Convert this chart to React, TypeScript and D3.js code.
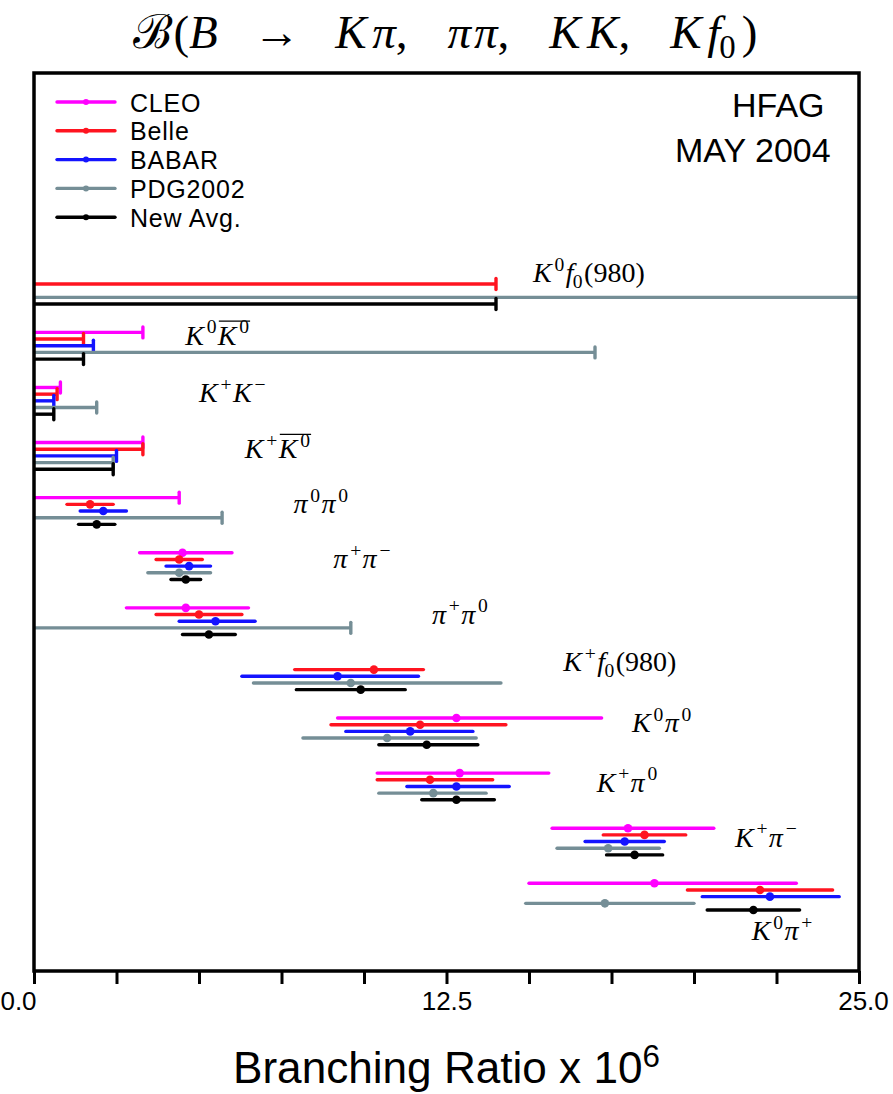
import React, { useEffect, useRef } from "react";
import * as d3 from "d3";

const W = 893;
const H = 1094;

// Experiments (legend order) and their colours
const experiments = ["CLEO", "Belle", "BABAR", "PDG2002", "New Avg."];
const expColors = ["#ff00ff", "#ff1420", "#1414ff", "#758e96", "#000000"];

// Decay modes, top to bottom
const modes = ["K0f0", "K0K0bar", "KpKm", "KpK0bar", "pi0pi0", "pippim", "pippi0", "Kpf0", "K0pi0", "Kppi0", "Kppim", "K0pip"];

// Measurements (x 10^-6): [central, low edge, high edge] or [upper limit]; null = none
type Meas = number[] | null;
const cleo: Meas[] = [null, [3.3], [0.8], [3.3], [4.4], [4.5, 3.2, 6.0], [4.6, 2.8, 6.5], null, [12.8, 9.2, 17.2], [12.9, 10.4, 15.6], [18.0, 15.7, 20.6], [18.8, 15.0, 23.1]];
const belle: Meas[] = [[14.0], [1.5], [0.7], [3.3], [1.7, 1.0, 2.4], [4.4, 3.7, 5.1], [5.0, 3.7, 6.3], [10.3, 7.9, 11.8], [11.7, 9.0, 14.3], [12.0, 10.4, 13.9], [18.5, 17.25, 19.75], [22.0, 19.8, 24.2]];
const babar: Meas[] = [null, [1.8], [0.6], [2.5], [2.1, 1.4, 2.8], [4.7, 4.0, 5.35], [5.5, 4.4, 6.7], [9.2, 6.3, 11.65], [11.4, 9.45, 13.3], [12.8, 11.3, 14.4], [17.9, 16.7, 19.1], [22.3, 20.25, 24.4]];
const pdg2002: Meas[] = [[26.0], [17.0], [1.9], [2.4], [5.7], [4.4, 3.45, 5.35], [9.6], [9.6, 6.65, 14.15], [10.7, 8.15, 13.4], [12.1, 10.45, 13.7], [17.4, 15.85, 18.95], [17.3, 14.9, 20.0]];
const newAvg: Meas[] = [[14.0], [1.5], [0.6], [2.4], [1.9, 1.35, 2.45], [4.6, 4.15, 5.05], [5.3, 4.5, 6.1], [9.9, 7.95, 11.25], [11.9, 10.45, 13.45], [12.8, 11.75, 13.95], [18.2, 17.35, 19.05], [21.8, 20.4, 23.2]];
const seriesByExp: Meas[][] = [cleo, belle, babar, pdg2002, newAvg];

// Axis ticks
const tickValues = [0, 2.5, 5, 7.5, 10, 12.5, 15, 17.5, 20, 22.5, 25];
const labelledTicks = [0, 12.5, 25];

// Math text segments (it = italic, s = sup/sub, bar = overline, gap = space before, in em)
type Seg = { t: string; it?: boolean; s?: "sup" | "sub"; bar?: boolean; gap?: number };
const modeLabels: Seg[][] = [
  [{ t: "K", it: true }, { t: "0", s: "sup" }, { t: "f", it: true }, { t: "0", s: "sub" }, { t: "(980)" }],
  [{ t: "K", it: true }, { t: "0", s: "sup" }, { t: "K", it: true, bar: true }, { t: "0", s: "sup", bar: true }],
  [{ t: "K", it: true }, { t: "+", s: "sup" }, { t: "K", it: true }, { t: "\u2212", s: "sup" }],
  [{ t: "K", it: true }, { t: "+", s: "sup" }, { t: "K", it: true, bar: true }, { t: "0", s: "sup", bar: true }],
  [{ t: "\u03c0", it: true }, { t: "0", s: "sup" }, { t: "\u03c0", it: true }, { t: "0", s: "sup" }],
  [{ t: "\u03c0", it: true }, { t: "+", s: "sup" }, { t: "\u03c0", it: true }, { t: "\u2212", s: "sup" }],
  [{ t: "\u03c0", it: true }, { t: "+", s: "sup" }, { t: "\u03c0", it: true }, { t: "0", s: "sup" }],
  [{ t: "K", it: true }, { t: "+", s: "sup" }, { t: "f", it: true }, { t: "0", s: "sub" }, { t: "(980)" }],
  [{ t: "K", it: true }, { t: "0", s: "sup" }, { t: "\u03c0", it: true }, { t: "0", s: "sup" }],
  [{ t: "K", it: true }, { t: "+", s: "sup" }, { t: "\u03c0", it: true }, { t: "0", s: "sup" }],
  [{ t: "K", it: true }, { t: "+", s: "sup" }, { t: "\u03c0", it: true }, { t: "\u2212", s: "sup" }],
  [{ t: "K", it: true }, { t: "0", s: "sup" }, { t: "\u03c0", it: true }, { t: "+", s: "sup" }],
];
// Label anchor: x in branching-ratio units, baseline offset (px) from the mode's first row
const labelX = [15.12, 4.58, 5.0, 6.39, 7.86, 9.07, 12.06, 16.04, 18.12, 17.05, 21.24, 21.75];
const labelDy = [4.7, 12.3, 14.3, 15.3, 15.6, 15.0, 15.7, 8.4, 13.7, 18.4, 18.4, 56.7];

const titleSegs: Seg[] = [
  { t: "\u212c" }, { t: "(", gap: 0.03 }, { t: "B", it: true }, { t: "\u2192", gap: 0.75 },
  { t: "K", it: true, gap: 0.75 }, { t: "\u03c0", it: true, gap: 0.12 }, { t: "," },
  { t: "\u03c0", it: true, gap: 0.85 }, { t: "\u03c0", it: true, gap: 0.06 }, { t: "," },
  { t: "K", it: true, gap: 0.85 }, { t: "K", it: true, gap: 0.14 }, { t: "," },
  { t: "K", it: true, gap: 0.85 }, { t: "f", it: true, gap: 0.12 }, { t: "0", s: "sub" }, { t: ")", gap: 0.08 },
];

const SERIF = "'Liberation Serif', 'DejaVu Serif', serif";
const SANS = "'Liberation Sans', Arial, Helvetica, sans-serif";

function writeMath(
  g: d3.Selection<SVGGElement, unknown, null, undefined>,
  segs: Seg[],
  x: number,
  y: number,
  size: number
) {
  const text = g.append("text").attr("x", x).attr("y", y).attr("font-family", SERIF).attr("font-size", size).attr("fill", "#000");
  let cur = 0;
  const small = size * 0.7;
  segs.forEach((s, k) => {
    const target = s.s === "sup" ? -size * 0.4 : s.s === "sub" ? size * 0.22 : 0;
    const prev = segs[k - 1];
    // italic letters lean right: push a following superscript clear of them
    let dx = s.s === "sup" && prev && prev.it ? size * 0.1 : s.s === "sub" ? -size * 0.02 : !s.s && prev && prev.s ? size * 0.05 : 0;
    if (s.gap) dx += s.gap * size;
    text
      .append("tspan")
      .attr("dy", target - cur)
      .attr("dx", dx)
      .attr("font-size", s.s ? small : size)
      .attr("font-style", s.it ? "italic" : "normal")
      .text(s.t);
    cur = target;
  });
  // overlines over barred segments
  const node = text.node() as SVGTextElement;
  let idx = 0;
  let first = -1;
  let last = -1;
  segs.forEach((s) => {
    if (s.bar) {
      if (first < 0) first = idx;
      last = idx + s.t.length - 1;
    }
    idx += s.t.length;
  });
  if (first >= 0) {
    const x1 = node.getStartPositionOfChar(first).x;
    const x2 = node.getEndPositionOfChar(last).x;
    g.append("line")
      .attr("x1", x1 + 1)
      .attr("x2", x2 + 1)
      .attr("y1", y - size * 0.84)
      .attr("y2", y - size * 0.84)
      .attr("stroke", "#000")
      .attr("stroke-width", 1.3);
  }
  return text;
}

export default function App() {
  const ref = useRef<SVGSVGElement>(null);

  useEffect(() => {
    const svg = d3.select(ref.current!);
    svg.selectAll("*").remove();

    const left = 34, right = 859, top = 73, bottom = 971;
    const x = d3.scaleLinear().domain([0, 25]).range([left, right]).clamp(true);
    const yGroup = d3.scaleLinear().domain([0, modes.length - 1]).range([277.3, 883.3]);
    const yRow = d3.scaleLinear().domain([0, experiments.length - 1]).range([0, 26.7]);

    const root = svg.append("g");

    // Title: lay out once, then rescale so it spans its target width
    const probe = root.append("g");
    const pt = writeMath(probe, titleSegs, 0, 48, 44);
    const pw = (pt.node() as SVGTextElement).getBBox().width;
    probe.remove();
    const tg = root.append("g");
    writeMath(tg, titleSegs, 133, 48, Math.min(47, (44 * 629) / pw));

    // Mode data
    const marks = root.append("g");
    seriesByExp.forEach((series, j) => {
      const color = expColors[j];
      series.forEach((m, i) => {
        if (!m) return;
        const y = yGroup(i) + yRow(j);
        if (m.length === 1) {
          marks.append("line").attr("x1", x(0)).attr("x2", x(m[0])).attr("y1", y).attr("y2", y)
            .attr("stroke", color).attr("stroke-width", 3.4);
          if (m[0] <= 25) {
            marks.append("line").attr("x1", x(m[0])).attr("x2", x(m[0])).attr("y1", y - 5.5).attr("y2", y + 5.5)
              .attr("stroke", color).attr("stroke-width", 3.4).attr("stroke-linecap", "round");
          }
        } else {
          const [v, lo, hi] = m;
          marks.append("line").attr("x1", x(lo)).attr("x2", x(hi)).attr("y1", y).attr("y2", y)
            .attr("stroke", color).attr("stroke-width", 3.4).attr("stroke-linecap", "round");
          marks.append("circle").attr("cx", x(v)).attr("cy", y).attr("r", 4.3).attr("fill", color);
        }
      });
    });

    // Mode labels
    const lg = root.append("g");
    modeLabels.forEach((segs, i) => {
      writeMath(lg, segs, x(labelX[i]), yGroup(i) + labelDy[i], 28);
    });

    // Frame
    root.append("rect").attr("x", left).attr("y", top).attr("width", right - left).attr("height", bottom - top)
      .attr("fill", "none").attr("stroke", "#000").attr("stroke-width", 3.5);

    // Bottom axis
    const axis = d3.axisBottom(x)
      .tickValues(tickValues)
      .tickSize(13)
      .tickPadding(8)
      .tickFormat((d) => (labelledTicks.includes(d as number) ? (d as number).toFixed(1) : ""));
    const ag = root.append("g").attr("transform", `translate(0,${bottom})`).call(axis);
    ag.select(".domain").remove();
    ag.selectAll(".tick line").attr("stroke", "#000").attr("stroke-width", 3);
    ag.selectAll<SVGTextElement, number>(".tick text")
      .attr("font-family", SANS)
      .attr("font-size", 26)
      .attr("fill", "#000")
      .attr("dx", (d) => (d === 0 ? -16 : d === 25 ? 4 : 0));

    // Axis title
    const at = root.append("text").attr("x", 233).attr("y", 1083).attr("font-family", SANS).attr("font-size", 38).attr("fill", "#000");
    at.append("tspan").text("Branching Ratio x 10");
    at.append("tspan").attr("dy", -16).attr("font-size", 27).text("6");
    const aw = (at.node() as SVGTextElement).getComputedTextLength();
    at.attr("font-size", (38 * 427) / aw);
    at.select("tspan:nth-child(2)").attr("font-size", (27 * 427) / aw);

    // Legend
    const leg = root.append("g");
    experiments.forEach((name, i) => {
      const ly = 102 + 28.8 * i;
      leg.append("line").attr("x1", 57).attr("x2", 115).attr("y1", ly).attr("y2", ly)
        .attr("stroke", expColors[i]).attr("stroke-width", 3.4).attr("stroke-linecap", "round");
      leg.append("circle").attr("cx", 86).attr("cy", ly).attr("r", 3).attr("fill", expColors[i]);
      leg.append("text").attr("x", 130).attr("y", ly + 9.5).attr("font-family", SANS).attr("font-size", 25)
        .attr("letter-spacing", 0.8).attr("fill", "#000").text(name);
    });

    // Stamp
    root.append("text").attr("x", 732).attr("y", 117).attr("font-family", SANS).attr("font-size", 34).text("HFAG");
    root.append("text").attr("x", 675).attr("y", 162).attr("font-family", SANS).attr("font-size", 34).text("MAY 2004");
  }, []);

  return (
    <svg
      ref={ref}
      width={W}
      height={H}
      viewBox={`0 0 ${W} ${H}`}
      style={{ position: "absolute", left: 0, top: 0, background: "#fff" }}
    />
  );
}
